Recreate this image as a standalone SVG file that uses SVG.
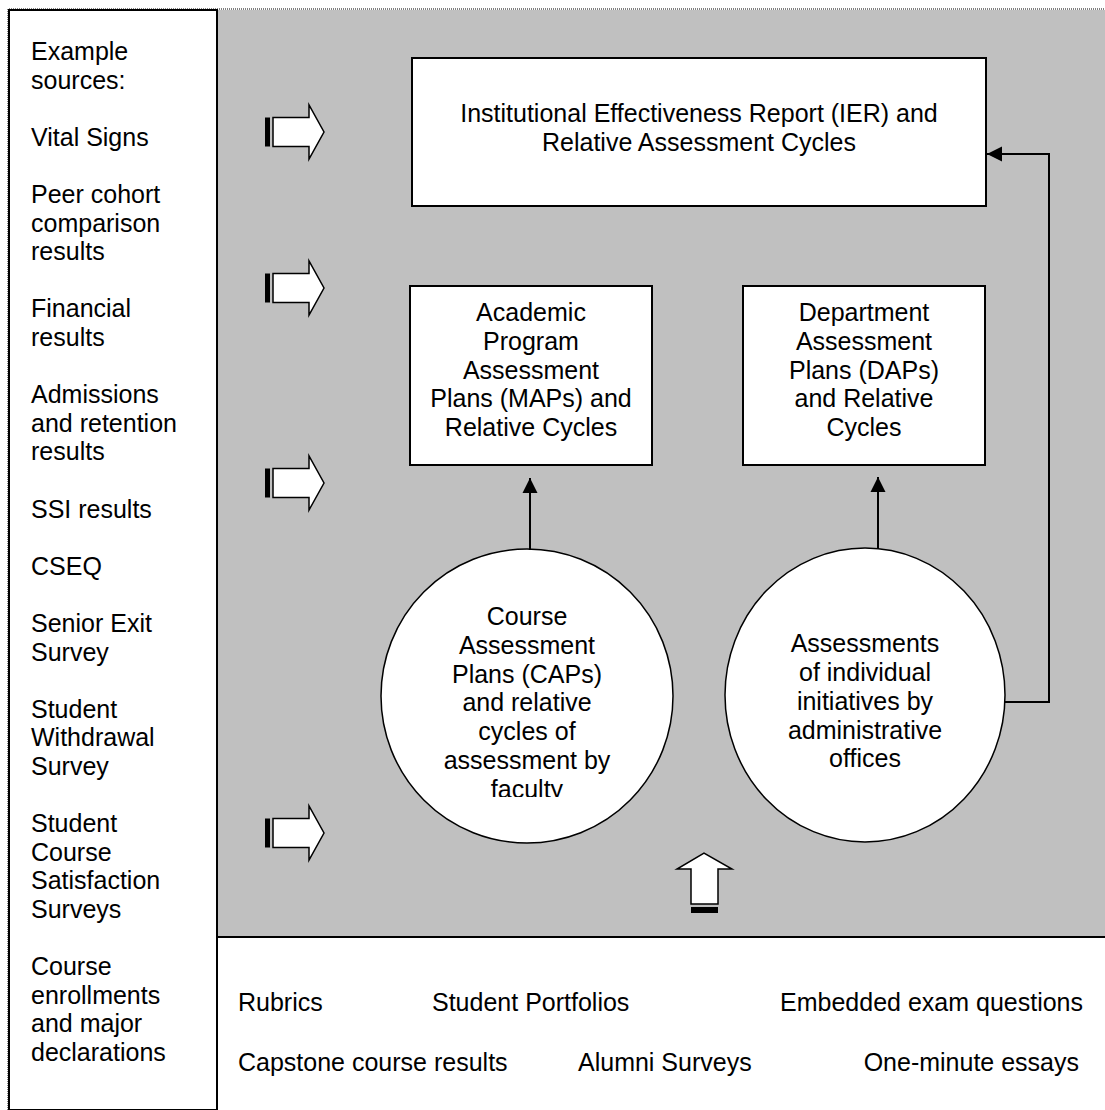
<svg xmlns="http://www.w3.org/2000/svg" width="1105" height="1110" viewBox="0 0 1105 1110">
<defs>
<style>
text{font-family:"Liberation Sans",Arial,sans-serif;font-size:25px;fill:#000}
.c{text-anchor:middle}
.box{fill:#fff;stroke:#000;stroke-width:2}
.circ{fill:#fff;stroke:#000;stroke-width:1.5}
.blk{fill:#fff;stroke:#000;stroke-width:1.5;stroke-linejoin:miter}
.con{fill:none;stroke:#000;stroke-width:2}
</style>
<marker id="ah" markerUnits="userSpaceOnUse" markerWidth="16" markerHeight="16" viewBox="0 0 16 16" refX="15" refY="8" orient="auto">
<path d="M0,0.5 L15,8 L0,15.5 Z" fill="#000"/>
</marker>
<clipPath id="clipCourse"><rect x="380" y="592" width="300" height="205"/></clipPath>
</defs>
<path d="M8,1110 V9 H1105" fill="none" stroke="#000" stroke-width="1" stroke-dasharray="1,1"/>
<rect x="218" y="10" width="887" height="927" fill="#c0c0c0"/>
<g id="source-panel">
<rect x="9" y="10" width="208" height="1100" fill="#fff" stroke="#000" stroke-width="2"/>
<text x="31" y="60">Example</text>
<text x="31" y="88.6">sources:</text>
<text x="31" y="145.8">Vital Signs</text>
<text x="31" y="203">Peer cohort</text>
<text x="31" y="231.6">comparison</text>
<text x="31" y="260.2">results</text>
<text x="31" y="317.4">Financial</text>
<text x="31" y="346">results</text>
<text x="31" y="403.2">Admissions</text>
<text x="31" y="431.8">and retention</text>
<text x="31" y="460.4">results</text>
<text x="31" y="517.6">SSI results</text>
<text x="31" y="574.8">CSEQ</text>
<text x="31" y="632">Senior Exit</text>
<text x="31" y="660.6">Survey</text>
<text x="31" y="717.8">Student</text>
<text x="31" y="746.4">Withdrawal</text>
<text x="31" y="775">Survey</text>
<text x="31" y="832.2">Student</text>
<text x="31" y="860.8">Course</text>
<text x="31" y="889.4">Satisfaction</text>
<text x="31" y="918">Surveys</text>
<text x="31" y="975.2">Course</text>
<text x="31" y="1003.8">enrollments</text>
<text x="31" y="1032.4">and major</text>
<text x="31" y="1061">declarations</text>
</g>
<g id="methods-panel">
<line x1="217" y1="937" x2="1105" y2="937" stroke="#000" stroke-width="2"/>
<text x="238" y="1011">Rubrics</text>
<text x="432" y="1011">Student Portfolios</text>
<text x="1083" y="1011" text-anchor="end">Embedded exam questions</text>
<text x="238" y="1071">Capstone course results</text>
<text x="578" y="1071">Alumni Surveys</text>
<text x="1079" y="1071" text-anchor="end">One-minute essays</text>
</g>
<g id="ier">
<rect class="box" x="412" y="58" width="574" height="148"/>
<text class="c" x="699" y="122">Institutional Effectiveness Report (IER) and</text>
<text class="c" x="699" y="151">Relative Assessment Cycles</text>
</g>
<g id="maps">
<rect class="box" x="410" y="286" width="242" height="179"/>
<text class="c" x="531" y="321">Academic</text>
<text class="c" x="531" y="350">Program</text>
<text class="c" x="531" y="379">Assessment</text>
<text class="c" x="531" y="407">Plans (MAPs) and</text>
<text class="c" x="531" y="436">Relative Cycles</text>
</g>
<g id="daps">
<rect class="box" x="743" y="286" width="242" height="179"/>
<text class="c" x="864" y="321">Department</text>
<text class="c" x="864" y="350">Assessment</text>
<text class="c" x="864" y="379">Plans (DAPs)</text>
<text class="c" x="864" y="407">and Relative</text>
<text class="c" x="864" y="436">Cycles</text>
</g>
<g id="caps">
<ellipse class="circ" cx="527" cy="696" rx="146" ry="147"/>
<g clip-path="url(#clipCourse)">
<text class="c" x="527" y="625">Course</text>
<text class="c" x="527" y="654">Assessment</text>
<text class="c" x="527" y="682.5">Plans (CAPs)</text>
<text class="c" x="527" y="711">and relative</text>
<text class="c" x="527" y="740">cycles of</text>
<text class="c" x="527" y="769">assessment by</text>
<text class="c" x="527" y="797.5">faculty</text>
</g>
</g>
<g id="admin">
<ellipse class="circ" cx="865" cy="695" rx="140" ry="147"/>
<text class="c" x="865" y="652">Assessments</text>
<text class="c" x="865" y="681">of individual</text>
<text class="c" x="865" y="710">initiatives by</text>
<text class="c" x="865" y="739">administrative</text>
<text class="c" x="865" y="767">offices</text>
</g>
<g id="input-arrows">
<g id="arrow-1" transform="translate(0,132)">
<rect x="265" y="-14.5" width="5" height="29" fill="#000"/>
<polygon class="blk" points="273,-14.5 309,-14.5 309,-27 324,0 309,27 309,14.5 273,14.5"/>
</g>
<g id="arrow-2" transform="translate(0,288)">
<rect x="265" y="-14.5" width="5" height="29" fill="#000"/>
<polygon class="blk" points="273,-14.5 309,-14.5 309,-27 324,0 309,27 309,14.5 273,14.5"/>
</g>
<g id="arrow-3" transform="translate(0,483)">
<rect x="265" y="-14.5" width="5" height="29" fill="#000"/>
<polygon class="blk" points="273,-14.5 309,-14.5 309,-27 324,0 309,27 309,14.5 273,14.5"/>
</g>
<g id="arrow-4" transform="translate(0,833)">
<rect x="265" y="-14.5" width="5" height="29" fill="#000"/>
<polygon class="blk" points="273,-14.5 309,-14.5 309,-27 324,0 309,27 309,14.5 273,14.5"/>
</g>
<g id="arrow-up">
<rect x="691" y="907" width="27" height="6" fill="#000"/>
<polygon class="blk" points="691,904 691,869 677,869 704,853 732,869 718,869 718,904"/>
</g>
</g>
<g id="connectors">
<path class="con" d="M530,550 V478" marker-end="url(#ah)"/>
<path class="con" d="M878,548 V477" marker-end="url(#ah)"/>
<path class="con" d="M1005,702 H1049 V154 H987" marker-end="url(#ah)"/>
</g>
</svg>
